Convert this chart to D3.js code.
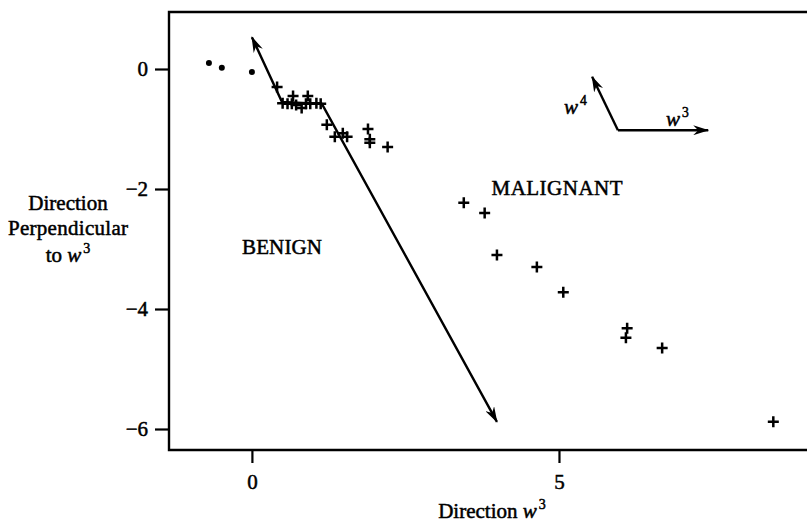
<!DOCTYPE html>
<html>
<head>
<meta charset="utf-8">
<script src="https://cdn.jsdelivr.net/npm/d3@7"></script>
<style>
  body { margin: 0; background: #fff; }
  svg text { font-family: "Liberation Serif", "Times New Roman", serif; fill: #000; stroke: #000; stroke-width: 0.5px; }
</style>
</head>
<body>
<svg id="chart"></svg>
<script>
// benign points (dots)
const benignX = [-0.70, -0.49, 0.00];
const benignY = [0.10, 0.02, -0.05];

// malignant points (plus signs)
const malignantX = [0.41, 0.67, 0.91, 0.50, 0.58, 0.65, 0.72, 0.81, 0.88, 0.95, 1.05, 1.12,
  1.22, 1.35, 1.48, 1.55, 1.89, 1.92, 1.92, 2.21,
  3.45, 3.79, 3.99, 4.64, 5.07, 6.11, 6.09, 6.68, 8.49];
const malignantY = [-0.30, -0.45, -0.45, -0.57, -0.58, -0.58, -0.60, -0.65, -0.58, -0.58, -0.57, -0.58,
  -0.93, -1.13, -1.07, -1.13, -1.00, -1.17, -1.23, -1.30,
  -2.23, -2.40, -3.10, -3.30, -3.72, -4.32, -4.48, -4.65, -5.88];

// separating path (arrow at both ends)
const pathX = [0.00, 0.49, 1.14, 3.99];
const pathY = [0.53, -0.55, -0.58, -5.88];

// direction inset: origin, w3 end, w4 end
const insetX = [5.96, 7.43, 5.54];
const insetY = [-1.02, -1.02, -0.13];

const xTicks = [0, 5];
const yTicks = [0, -2, -4, -6];

const W = 807, H = 523;
const plot = { left: 169, top: 12, right: 812, bottom: 450 };
const FS = 21;

const svg = d3.select("#chart").attr("width", W).attr("height", H);

const x = d3.scaleLinear().domain([-1.35, 9.12]).range([plot.left, plot.right]);
const y = d3.scaleLinear().domain([0.95, -6.35]).range([plot.top, plot.bottom]);

const fmt = d => (d < 0 ? "\u2212" + Math.abs(d) : String(d));

// arrowhead marker
const defs = svg.append("defs");
defs.append("marker")
  .attr("id", "head")
  .attr("viewBox", "0 0 16 10")
  .attr("refX", 15).attr("refY", 5)
  .attr("markerWidth", 16).attr("markerHeight", 10)
  .attr("markerUnits", "userSpaceOnUse")
  .attr("orient", "auto-start-reverse")
  .append("path")
  .attr("d", "M0,0 L16,5 L0,10 L5,5 Z")
  .attr("fill", "#000");

// axes
const yAxis = d3.axisLeft(y).tickValues(yTicks).tickFormat(fmt).tickSize(14).tickPadding(7);
const gy = svg.append("g").attr("transform", `translate(${plot.left},0)`).call(yAxis);
const xAxis = d3.axisBottom(x).tickValues(xTicks).tickFormat(fmt).tickSize(13).tickPadding(11);
const gx = svg.append("g").attr("transform", `translate(0,${plot.bottom})`).call(xAxis);
[gx, gy].forEach(g => {
  g.select(".domain").remove();
  g.selectAll(".tick line").attr("stroke", "#000").attr("stroke-width", 2.2);
  g.selectAll(".tick text").attr("font-size", FS).attr("font-family", "Liberation Serif");
});

// frame (right edge runs off the page)
svg.append("path")
  .attr("d", `M${plot.right},${plot.top} H${plot.left} V${plot.bottom} H${plot.right}`)
  .attr("fill", "none").attr("stroke", "#000").attr("stroke-width", 2.4);

// separating path
const line = d3.line().x(d => x(d[0])).y(d => y(d[1]));
svg.append("path")
  .datum(d3.zip(pathX, pathY))
  .attr("d", line)
  .attr("fill", "none").attr("stroke", "#000").attr("stroke-width", 2.4)
  .attr("marker-start", "url(#head)")
  .attr("marker-end", "url(#head)");

// benign dots
svg.append("g").selectAll("circle")
  .data(d3.zip(benignX, benignY))
  .join("circle")
  .attr("cx", d => x(d[0])).attr("cy", d => y(d[1]))
  .attr("r", 3).attr("fill", "#000");

// malignant plus signs
svg.append("g").selectAll("path")
  .data(d3.zip(malignantX, malignantY))
  .join("path")
  .attr("d", d => {
    const cx = x(d[0]), cy = y(d[1]);
    return `M${cx - 5.5},${cy} H${cx + 5.5} M${cx},${cy - 5.5} V${cy + 5.5}`;
  })
  .attr("stroke", "#000").attr("stroke-width", 2.5);

// inset direction arrows
const o = [x(insetX[0]), y(insetY[0])];
[1, 2].forEach(i => {
  svg.append("line")
    .attr("x1", o[0]).attr("y1", o[1])
    .attr("x2", x(insetX[i])).attr("y2", y(insetY[i]))
    .attr("stroke", "#000").attr("stroke-width", 2.4)
    .attr("marker-end", "url(#head)");
});

// w label helper: italic w with superscript
function wLabel(g, px, py, sup, size) {
  const t = g.append("text").attr("x", px).attr("y", py).attr("font-size", size);
  t.append("tspan").attr("font-style", "italic").text("w");
  t.append("tspan").attr("dx", 2).attr("dy", -size * 0.45).attr("font-size", size * 0.65).text(sup);
  return t;
}
wLabel(svg, 564, 114, "4", FS);
wLabel(svg, 666, 126, "3", FS);

// region labels
svg.append("text").attr("x", 557).attr("y", 195).attr("text-anchor", "middle")
  .attr("font-size", FS).attr("textLength", 131).text("MALIGNANT");
svg.append("text").attr("x", 282).attr("y", 254).attr("text-anchor", "middle")
  .attr("font-size", FS).attr("textLength", 80).text("BENIGN");

// y axis title
svg.append("text").attr("x", 68).attr("y", 210).attr("text-anchor", "middle")
  .attr("font-size", FS).text("Direction");
svg.append("text").attr("x", 68).attr("y", 235).attr("text-anchor", "middle")
  .attr("font-size", FS).attr("textLength", 120).text("Perpendicular");
const yl = svg.append("text").attr("x", 68).attr("y", 262).attr("text-anchor", "middle")
  .attr("font-size", FS);
yl.append("tspan").text("to ");
yl.append("tspan").attr("font-style", "italic").text("w");
yl.append("tspan").attr("dx", 2).attr("dy", -9).attr("font-size", 14).text("3");

// x axis title
const xl = svg.append("text").attr("x", 492).attr("y", 518).attr("text-anchor", "middle")
  .attr("font-size", FS);
xl.append("tspan").text("Direction ");
xl.append("tspan").attr("font-style", "italic").text("w");
xl.append("tspan").attr("dx", 2).attr("dy", -9).attr("font-size", 14).text("3");
</script>
</body>
</html>
